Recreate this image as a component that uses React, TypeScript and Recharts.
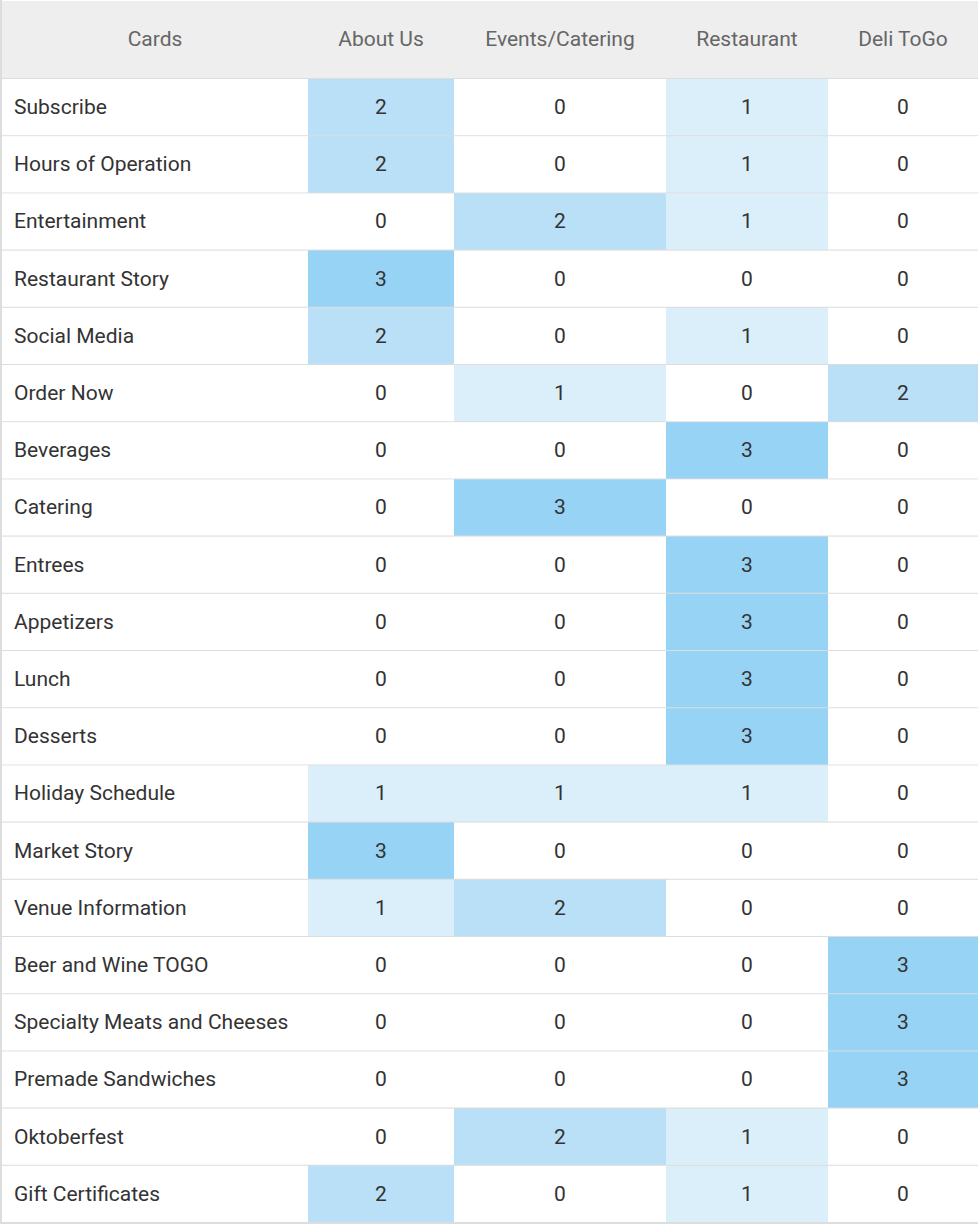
import React from "react";
import { ScatterChart, Scatter, XAxis, YAxis } from "recharts";

const columns = ["Cards", "About Us", "Events/Catering", "Restaurant", "Deli ToGo"];
const cards = ["Subscribe","Hours of Operation","Entertainment","Restaurant Story","Social Media","Order Now","Beverages","Catering","Entrees","Appetizers","Lunch","Desserts","Holiday Schedule","Market Story","Venue Information","Beer and Wine TOGO","Specialty Meats and Cheeses","Premade Sandwiches","Oktoberfest","Gift Certificates"];
const aboutUs = [2,2,0,3,2,0,0,0,0,0,0,0,1,3,1,0,0,0,0,2];
const events = [0,0,2,0,0,1,0,3,0,0,0,0,1,0,2,0,0,0,2,0];
const restaurant = [1,1,1,0,1,0,3,0,3,3,3,3,1,0,0,0,0,0,1,1];
const deli = [0,0,0,0,0,2,0,0,0,0,0,0,0,0,0,3,3,3,0,0];

const colEdges = [2, 308, 454, 666, 828, 978];
const headerH = 78;
const rowH = 57.2;
const colors = ["#ffffff", "#dbeffb", "#b9e0f7", "#97d3f5"];

const points: any[] = [];
columns.forEach((c, j) => {
  const w = colEdges[j + 1] - colEdges[j];
  points.push({ x: colEdges[j] + w / 2, y: 1 + headerH / 2, w, h: headerH, label: c, kind: "head", col: j });
});
const series = [aboutUs, events, restaurant, deli];
cards.forEach((name, i) => {
  const y0 = 1 + headerH + i * rowH;
  points.push({ x: (colEdges[0] + colEdges[1]) / 2, y: y0 + rowH / 2, w: colEdges[1] - colEdges[0], h: rowH, label: name, kind: "name", col: 0 });
  series.forEach((s, k) => {
    const w = colEdges[k + 2] - colEdges[k + 1];
    points.push({ x: colEdges[k + 1] + w / 2, y: y0 + rowH / 2, w, h: rowH, label: String(s[i]), v: s[i], kind: "val", col: k + 1 });
  });
});

const Cell = (props: any) => {
  const { cx, cy, payload } = props;
  const { w, h, label, kind, v } = payload;
  const x = cx - w / 2, y = cy - h / 2;
  const fill = kind === "head" ? "#eeeeee" : kind === "name" ? "#ffffff" : colors[v];
  return (
    <g>
      <rect x={x} y={y} width={w} height={h} fill={fill} />
      <line x1={x} x2={x + w} y1={y + h} y2={y + h} stroke="#dddddd" strokeWidth={2} />
      <text
        x={kind === "name" ? x + 12 : cx}
        y={cy - 1}
        dy="0.35em"
        textAnchor={kind === "name" ? "start" : "middle"}
        fontFamily="Roboto, sans-serif"
        fontSize={21}
        fill={kind === "head" ? "#666666" : "#333333"}
      >
        {label}
      </text>
    </g>
  );
};

export default function App() {
  return (
    <div style={{ position: "absolute", left: 0, top: 0, width: 980, height: 1226, background: "#fff" }}>
      <ScatterChart width={980} height={1226} margin={{ top: 0, right: 0, bottom: 0, left: 0 }}>
        <XAxis type="number" dataKey="x" domain={[0, 980]} hide />
        <YAxis type="number" dataKey="y" domain={[0, 1226]} reversed hide />
        <Scatter data={points} shape={<Cell />} isAnimationActive={false} />
      </ScatterChart>
      <div style={{ position: "absolute", left: 0, top: 0, width: 2, height: 1224, background: "#dddddd" }} />
    </div>
  );
}
